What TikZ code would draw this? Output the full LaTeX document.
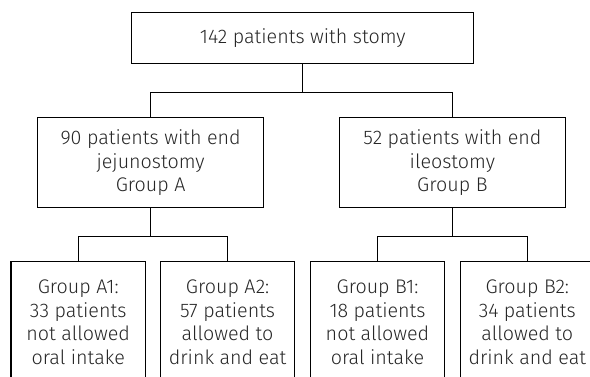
\documentclass[tikz,border=0pt]{standalone}
\usepackage{fontspec}
\setmainfont{Fira Sans}[UprightFont={* Light}]
\begin{document}
\begin{tikzpicture}[x=1pt,y=-1pt,line width=1.1pt,
    box node/.style={draw,align=center,inner sep=0pt,text=black!85,font=\fontsize{19.7}{23.6}\selectfont},
    group node/.style={box node,minimum width=226pt,minimum height=90pt},
    sub node/.style={box node,minimum width=134.5pt,minimum height=121pt}]
    \useasboundingbox (0,0) rectangle (590,376);

    \node[box node,minimum width=342pt,minimum height=51pt] at (302.8,37.8) (all) {142 patients with stomy};
    \node[group node] at (150.6,162.7) (ga) {90 patients with end\\jejunostomy\\Group A};
    \node[group node] at (452.4,162.7) (gb) {52 patients with end\\ileostomy\\Group B};
    \node[sub node] at (78.2,322.2) (a1) {Group A1:\\33 patients\\not allowed\\oral intake};
    \node[sub node] at (227.6,322.2) (a2) {Group A2:\\57 patients\\allowed to\\drink and eat};
    \node[sub node] at (377.5,322.2) (b1) {Group B1:\\18 patients\\not allowed\\oral intake};
    \node[sub node] at (527.3,322.2) (b2) {Group B2:\\34 patients\\allowed to\\drink and eat};

    \draw (all.south) -- ++(0,29) -| (ga.north);
    \draw (all.south) -- ++(0,29) -| (gb.north);
    \draw (ga.south) -- ++(0,28) -| (a1.north);
    \draw (ga.south) -- ++(0,28) -| (a2.north);
    \draw (gb.south) -- ++(0,28) -| (b1.north);
    \draw (gb.south) -- ++(0,28) -| (b2.north);
\end{tikzpicture}
\end{document}
